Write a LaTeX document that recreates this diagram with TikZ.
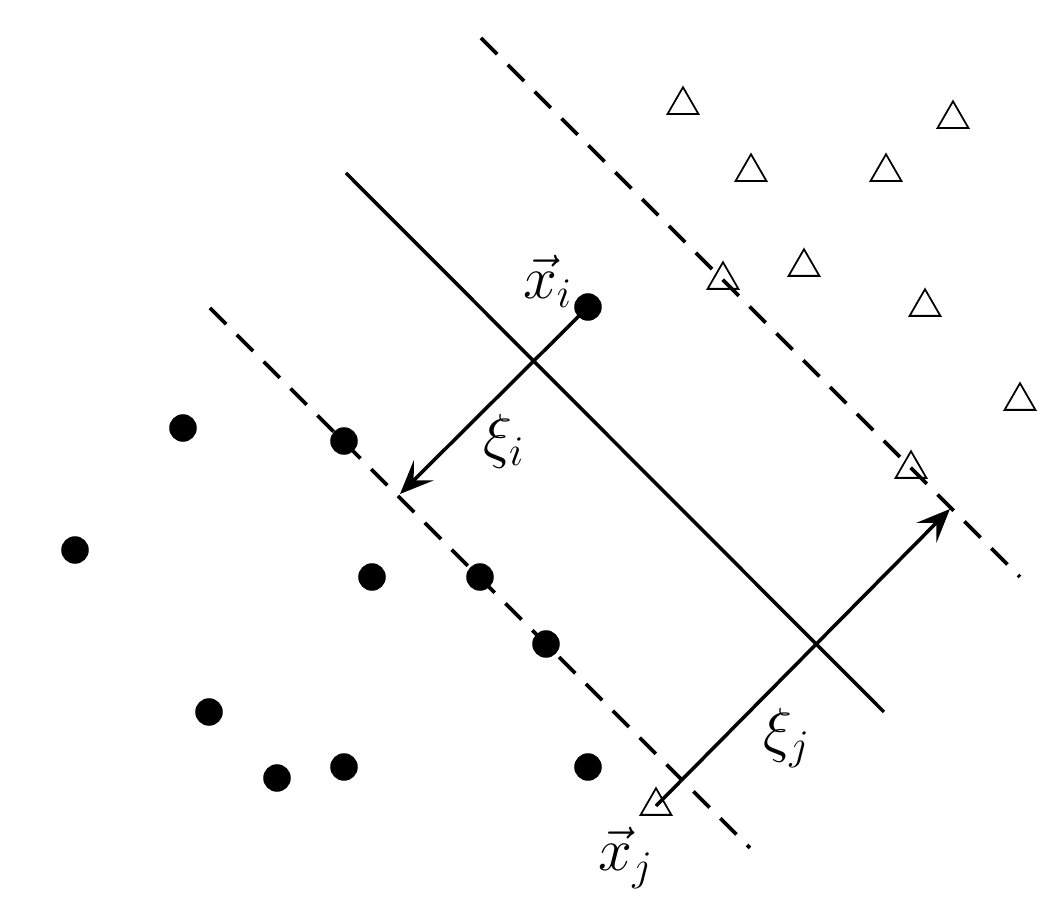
\documentclass[tikz,border=0pt]{standalone}
\usetikzlibrary{arrows.meta,shapes.geometric}

\begin{document}
\begin{tikzpicture}[x=0.01cm,y=-0.01cm,font=\fontsize{16.5}{20}\selectfont,>={Stealth[length=9.5pt,width=8pt,inset=4pt]},
  dot/.style={circle,fill=black,inner sep=0,minimum size=0.275cm},
  tri/.style={draw,regular polygon,regular polygon sides=3,inner sep=0,minimum size=0.355cm,line width=0.5pt},
  margin/.style={line width=1.1pt,dash pattern=on 6.5pt off 4.3pt},
  plane/.style={line width=1pt}]
\useasboundingbox (0,0) rectangle (1062,900);
% hyperplane and margins
\coordinate (u1) at (481,38); \coordinate (u2) at (1020,577);\coordinate (h1) at (346,173); \coordinate (h2) at (884,712);\coordinate (l1) at (210,308); \coordinate (l2) at (750,848);
\draw[margin] (u1)--(u2);\draw[plane] (h1)--(h2);\draw[margin] (l1)--(l2);
% class -1
\node[dot] (xi) at (588,307){}; \node[dot] (d1) at (183,428){}; \node[dot] (d2) at (344,441){}; \node[dot] (d3) at (75,550){};
\node[dot] (d4) at (372,577){}; \node[dot] (d5) at (480,577){}; \node[dot] (d6) at (546,644){}; \node[dot] (d7) at (209,712){};
\node[dot] (d8) at (277,778){}; \node[dot] (d9) at (344,767){}; \node[dot] (d10) at (588,767){};
% class +1
\node[tri] (t1) at (683,105){}; \node[tri] (t2) at (953,119){}; \node[tri] (t3) at (751,172){}; \node[tri] (t4) at (886,172){};
\node[tri] (t5) at (723,280){}; \node[tri] (t6) at (804,267){}; \node[tri] (t7) at (925,307){}; \node[tri] (t8) at (1020,401){};
\node[tri] (t9) at (911,469){}; \node[tri] (xj) at (656,806){};
% slacks
\coordinate (ei) at (400,494); \coordinate (ej) at (950,509);
\draw[->,plane] (xi.center)--(ei); \draw[->,plane] (xj.center)--(ej);
\node (lxi) at (548,281){$\vec{x}_i$}; \node (lei) at (504,441){$\xi_i$};\node (lej) at (787,738){$\xi_j$}; \node (lxj) at (626,858){$\vec{x}_j$};
\end{tikzpicture}
\end{document}
